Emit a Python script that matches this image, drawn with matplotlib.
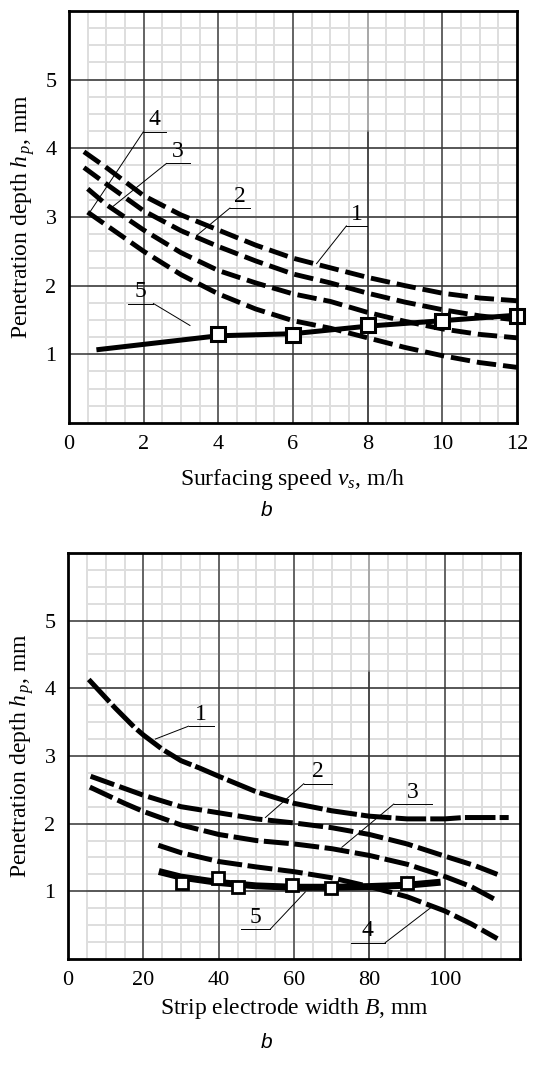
import numpy as np
import matplotlib
matplotlib.use("Agg")
import matplotlib.pyplot as plt

plt.rcParams['font.family'] = ['Liberation Serif', 'DejaVu Serif']
plt.rcParams['mathtext.fontset'] = 'custom'
plt.rcParams['mathtext.rm'] = 'Liberation Serif'
plt.rcParams['mathtext.it'] = 'Liberation Serif:italic'
plt.rcParams['lines.scale_dashes'] = False

# ---- top chart: surfacing speed (m/h) ----
speed_1 = [0.4, 1, 2, 3, 4, 5, 6, 7, 8, 9, 10, 11, 12]
depth_1 = [3.95, 3.72, 3.31, 3.03, 2.81, 2.59, 2.40, 2.26, 2.12, 2.00, 1.89, 1.82, 1.78]
speed_2 = [0.4, 1, 2, 3, 4, 5, 6, 7, 8, 9, 10, 11, 12]
depth_2 = [3.72, 3.48, 3.09, 2.80, 2.57, 2.36, 2.17, 2.04, 1.89, 1.76, 1.65, 1.56, 1.50]
speed_3 = [0.5, 1, 2, 3, 4, 5, 6, 7, 8, 9, 10, 11, 12]
depth_3 = [3.41, 3.18, 2.81, 2.48, 2.22, 2.04, 1.88, 1.77, 1.61, 1.48, 1.37, 1.29, 1.24]
speed_4 = [0.5, 1, 2, 3, 4, 5, 6, 7, 8, 9, 10, 11, 12]
depth_4 = [3.07, 2.88, 2.50, 2.16, 1.88, 1.66, 1.49, 1.38, 1.24, 1.10, 0.98, 0.88, 0.81]
speed_5 = [0.8, 4, 6, 8, 10, 12]
depth_5 = [1.07, 1.27, 1.30, 1.41, 1.49, 1.57]
speed_pts = [4, 6, 8, 10, 12]
depth_pts = [1.30, 1.28, 1.42, 1.48, 1.56]

# ---- bottom chart: strip electrode width (mm) ----
width_1 = [5.5, 8, 10, 12.5, 15, 17.5, 20, 25, 30, 35, 40, 50, 60, 70, 80, 90, 100, 105, 117]
hp_1 = [4.13, 3.98, 3.86, 3.71, 3.57, 3.43, 3.31, 3.10, 2.93, 2.82, 2.70, 2.47, 2.30, 2.19, 2.11,
        2.07, 2.07, 2.09, 2.09]
width_2 = [6, 10, 20, 30, 40, 50, 60, 70, 80, 90, 100, 108, 114]
hp_2 = [2.70, 2.62, 2.42, 2.25, 2.16, 2.07, 2.01, 1.94, 1.84, 1.70, 1.52, 1.38, 1.25]
width_3 = [5.8, 10, 15, 20, 30, 40, 50, 60, 70, 80, 90, 100, 107, 114]
hp_3 = [2.54, 2.43, 2.30, 2.18, 1.98, 1.84, 1.75, 1.70, 1.63, 1.53, 1.40, 1.22, 1.07, 0.86]
width_4 = [24, 30, 40, 50, 60, 70, 80, 90, 100, 107, 114]
hp_4 = [1.68, 1.57, 1.44, 1.36, 1.29, 1.20, 1.07, 0.92, 0.71, 0.52, 0.30]
width_5 = [25, 30, 35, 40, 50, 60, 70, 80, 90, 98]
hp_5 = [1.28, 1.21, 1.17, 1.13, 1.08, 1.06, 1.06, 1.07, 1.09, 1.13]
width_pts = [30.3, 39.7, 45, 59.5, 69.8, 90]
hp_pts = [1.13, 1.20, 1.07, 1.09, 1.05, 1.12]

# curve labels: text, (underline x0, x1, y), leader start, leader end
top_labels = [
    ("4", (1.99, 2.61, 4.24), (1.99, 4.24), (0.52, 3.04)),
    ("3", (2.61, 3.24, 3.78), (2.61, 3.78), (1.10, 3.12)),
    ("2", (4.31, 4.84, 3.13), (4.31, 3.13), (3.42, 2.73)),
    ("1", (7.43, 7.97, 2.87), (7.43, 2.87), (6.63, 2.32)),
    ("5", (1.59, 2.26, 1.74), (2.26, 1.74), (3.24, 1.42)),
]
bot_labels = [
    ("1", (32.0, 38.7, 3.44), (32.0, 3.44), (23.2, 3.25)),
    ("2", (62.6, 70.1, 2.59), (62.6, 2.59), (52.4, 2.09)),
    ("3", (86.5, 96.6, 2.29), (86.5, 2.29), (72.7, 1.65)),
    ("5", (45.8, 53.7, 0.44), (53.7, 0.44), (63.0, 0.99)),
    ("4", (75.0, 84.2, 0.24), (84.2, 0.24), (96.6, 0.77)),
]


def setup_grid(ax, xmax, xstep, xminor, gap_x):
    ax.set_xlim(0, xmax)
    ax.set_ylim(0, 6)
    # minor grid
    for xv in np.arange(xminor, xmax, xminor):
        ax.axvline(xv, color='#dedede', lw=1.4, zorder=0.5)
    for yv in np.arange(0.25, 6, 0.25):
        ax.plot([xminor, xmax], [yv, yv], color='#dedede', lw=1.4, zorder=0.5)
    # major grid
    for xv in np.arange(xstep, xmax, xstep):
        if abs(xv - gap_x) < 1e-6:
            ax.plot([xv, xv], [0, 4.25], color='#222222', lw=1.1, zorder=1)
            ax.plot([xv, xv], [4.25, 6], color='#9a9a9a', lw=1.1, zorder=1)
        else:
            ax.axvline(xv, color='#444444', lw=1.1, zorder=1)
    for yv in range(1, 6):
        ax.axhline(yv, color='#333333', lw=1.1, zorder=1)
    ax.set_xticks(np.arange(0, xmax + 0.1, xstep))
    ax.set_yticks([1, 2, 3, 4, 5])
    ax.tick_params(length=0, labelsize=16, pad=9)
    for s in ax.spines.values():
        s.set_linewidth(2.0)
        s.set_zorder(5)
    ax.set_ylabel("Penetration depth $h_{\\,p}$, mm", fontsize=17, labelpad=6)


def add_labels(ax, labels):
    for txt, (ux0, ux1, uy), p0, p1 in labels:
        ax.plot([ux0, ux1], [uy, uy], color='black', lw=0.7, zorder=3)
        ax.plot([p0[0], p1[0]], [p0[1], p1[1]], color='black', lw=0.7, zorder=3)
        ax.text((ux0 + ux1) / 2, uy + 0.02, txt, ha='center', va='bottom',
                fontsize=17, zorder=3)


fig = plt.figure(figsize=(5.33, 10.66), dpi=100)

# top
ax1 = fig.add_axes([0.1295, 0.6032, 0.8405, 0.3865])
setup_grid(ax1, 12, 2, 0.5, 8)
dash_top = (0, (14, 5))
for xs, ys in [(speed_1, depth_1), (speed_2, depth_2), (speed_3, depth_3), (speed_4, depth_4)]:
    ax1.plot(xs, ys, color='black', lw=3.5, linestyle=dash_top, zorder=2,
             dash_capstyle='butt', dash_joinstyle='round')
ax1.plot(speed_5, depth_5, color='black', lw=3.6, zorder=2)
ax1.plot(speed_pts, depth_pts, linestyle='none', marker='s', markersize=10.5,
         markerfacecolor='white', markeredgecolor='black', markeredgewidth=2.2,
         zorder=4, clip_on=False)
add_labels(ax1, top_labels)
ax1.set_xlabel("Surfacing speed $v_s$, m/h", fontsize=17, labelpad=9)
fig.text(0.5, 0.521, "b", fontsize=15, style='italic', ha='center', va='center',
         family='Liberation Sans')

# bottom
ax2 = fig.add_axes([0.1276, 0.1004, 0.848, 0.3809])
setup_grid(ax2, 120, 20, 5, 80)
styles = [(0, (22, 3)), (0, (18, 4)), (0, (18, 4)), (0, (18, 4))]
for (xs, ys), st in zip([(width_1, hp_1), (width_2, hp_2), (width_3, hp_3), (width_4, hp_4)], styles):
    ax2.plot(xs, ys, color='black', lw=3.6, linestyle=st, zorder=2,
             dash_capstyle='butt', dash_joinstyle='round')
ax2.plot(width_5, hp_5, color='black', lw=5.0, zorder=2, solid_joinstyle='round')
ax2.plot(width_pts, hp_pts, linestyle='none', marker='s', markersize=8.5,
         markerfacecolor='white', markeredgecolor='black', markeredgewidth=2.0,
         zorder=4)
add_labels(ax2, bot_labels)
ax2.set_xticks([0, 20, 40, 60, 80, 100])
ax2.set_xlabel("Strip electrode width $B$, mm", fontsize=17, labelpad=4)
fig.text(0.5, 0.022, "b", fontsize=15, style='italic', ha='center', va='center',
         family='Liberation Sans')

fig.savefig("out.png", dpi=100)
